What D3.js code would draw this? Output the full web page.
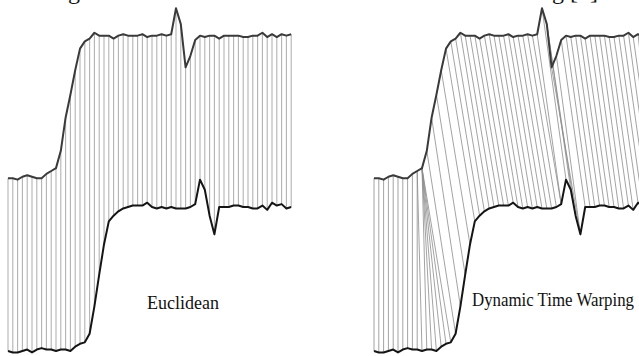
<!DOCTYPE html>
<html>
<head>
<meta charset="utf-8">
<script src="https://cdn.jsdelivr.net/npm/d3@7"></script>
<style>
  body { margin: 0; background: #fff; }
  svg { display: block; }
</style>
</head>
<body>
<svg id="chart"></svg>
<script>
// two time series (same units)
var seriesA = [0, 0, -1, 1, 2, 1, 0, 0, 3, 5, 7, 19, 42, 58, 75, 90, 95, 97, 101, 99,
               99, 99, 97, 99, 100, 99, 99, 99, 100, 98, 99, 99, 100, 99, 100, 118, 107, 77, 85, 96,
               99, 98, 99, 99, 97, 99, 99, 99, 99, 98, 98, 99, 99, 101, 98, 100, 98, 100, 99, 100];
var seriesB = [0, -1, -1, 0, 1, -1, 1, 2, 1, 1, 0, 1, 1, 0, 3, 5, 6, 12, 31, 53,
               74, 90, 94, 97, 99, 100, 101, 101, 101, 103, 100, 99, 100, 99, 100, 99, 99, 99, 100, 102,
               119, 112, 94, 81, 100, 100, 100, 101, 101, 100, 100, 99, 99, 101, 98, 103, 101, 102, 99, 100];
// warping path: [index in A, index in B]
var warpPath = [[0,0],[1,1],[2,2],[3,3],[4,4],[5,5],[6,6],[7,7],[8,8],[9,9],[9,10],[10,11],[10,12],
  [10,13],[10,14],[10,15],[10,16],[11,17],[12,18],[13,19],[14,20],[15,21],[16,22],[17,23],[18,24],
  [19,25],[20,26],[21,27],[22,28],[23,29],[24,30],[25,31],[26,32],[27,33],[28,34],[29,35],[30,36],
  [31,37],[32,38],[33,39],[34,39],[35,40],[36,41],[36,42],[37,43],[38,43],[39,44],[40,45],[41,46],
  [42,47],[43,48],[44,49],[45,50],[46,51],[47,52],[48,53],[49,54],[50,55],[51,56],[52,57],[53,58],
  [54,59],[55,59],[56,59],[57,59],[58,59],[59,59]];
var panelTitles = ["Euclidean", "Dynamic Time Warping"];

var width = 639, height = 356;
var upperOffset = 120;   // vertical shift of series A so the two don't overlap

var svg = d3.select("#chart")
    .attr("width", width)
    .attr("height", height);

svg.append("rect").attr("width", width).attr("height", height).attr("fill", "#fff");

var y = d3.scaleLinear().domain([0, 100]).range([351, 207]);
var idx = d3.range(seriesA.length);

// euclidean: i <-> i
var euclidPairs = idx.map(function(i) { return [i, i]; });

var panels = [
  { x0: 8,   pairs: euclidPairs, lineColor: "#b3b3b3", lineWidth: 1.1, title: panelTitles[0], tx: 147, ty: 309, size: 18, len: null },
  { x0: 374, pairs: warpPath,    lineColor: "#8c8c8c", lineWidth: 0.8, title: panelTitles[1], tx: 472, ty: 306, size: 19, len: 162 }
];

panels.forEach(function(p) {
  var x = d3.scaleLinear().domain([0, seriesA.length - 1]).range([p.x0, p.x0 + 283.2]);
  var g = svg.append("g");

  // connecting lines
  g.selectAll("line.link")
    .data(p.pairs)
    .enter().append("line")
    .attr("class", "link")
    .attr("x1", function(d) { return x(d[0]); })
    .attr("y1", function(d) { return y(seriesA[d[0]] + upperOffset); })
    .attr("x2", function(d) { return x(d[1]); })
    .attr("y2", function(d) { return y(seriesB[d[1]]); })
    .attr("stroke", p.lineColor)
    .attr("stroke-width", p.lineWidth);

  var lineA = d3.line()
      .x(function(i) { return x(i); })
      .y(function(i) { return y(seriesA[i] + upperOffset); });
  var lineB = d3.line()
      .x(function(i) { return x(i); })
      .y(function(i) { return y(seriesB[i]); });

  g.append("path").datum(idx)
    .attr("d", lineA)
    .attr("fill", "none")
    .attr("stroke", "#3a3a3a")
    .attr("stroke-width", 2)
    .attr("stroke-linejoin", "round");
  g.append("path").datum(idx)
    .attr("d", lineB)
    .attr("fill", "none")
    .attr("stroke", "#151515")
    .attr("stroke-width", 2)
    .attr("stroke-linejoin", "round");

  var t = g.append("text")
    .attr("x", p.tx)
    .attr("y", p.ty)
    .attr("font-family", "'Liberation Serif', 'Times New Roman', serif")
    .attr("font-size", p.size)
    .attr("fill", "#111")
    .text(p.title);
  if (p.len) t.attr("textLength", p.len).attr("lengthAdjust", "spacingAndGlyphs");
});

// caption line above, cut off by the top edge
svg.append("text")
  .attr("x", 80).attr("y", -1)
  .attr("text-anchor", "end")
  .attr("font-family", "'Liberation Serif', 'Times New Roman', serif")
  .attr("font-size", 24)
  .attr("fill", "#111")
  .text("ing");
svg.append("text")
  .attr("x", 598).attr("y", -1)
  .attr("text-anchor", "end")
  .attr("font-family", "'Liberation Serif', 'Times New Roman', serif")
  .attr("font-size", 24)
  .attr("fill", "#111")
  .text("ing [1]");
</script>
</body>
</html>
